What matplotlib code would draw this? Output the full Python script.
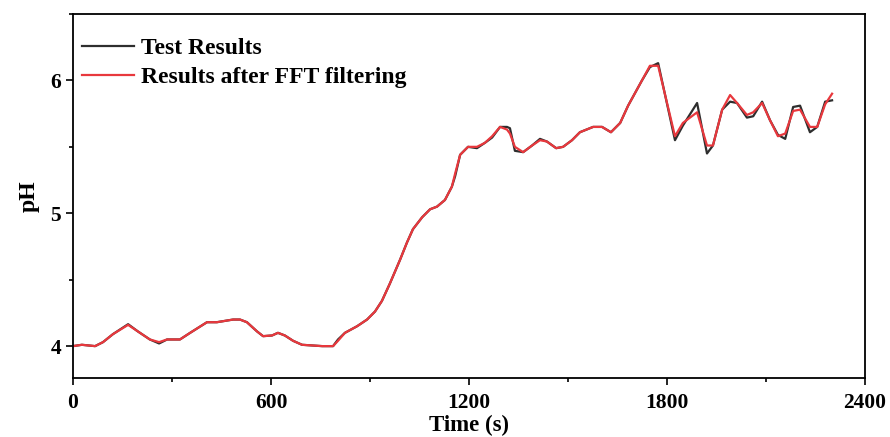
import matplotlib
matplotlib.use("Agg")
import matplotlib.pyplot as plt
from matplotlib.ticker import MultipleLocator

# time (s) and pH
time_s = [0, 27, 67, 91, 121, 167, 197, 233, 261, 285, 324, 355, 406, 436, 485, 506,
          527, 558, 576, 603, 621, 642, 667, 694, 755, 788, 803, 824, 861, 891, 915,
          936, 960, 991, 1012, 1030, 1058, 1082, 1103, 1127, 1148, 1158, 1173, 1197,
          1224, 1248, 1270, 1294, 1315, 1324, 1339, 1364, 1391, 1415, 1436, 1464,
          1485, 1512, 1536, 1576, 1603, 1630, 1658, 1682, 1724, 1748, 1773, 1824,
          1848, 1891, 1921, 1939, 1967, 1991, 2012, 2042, 2061, 2088, 2112, 2136,
          2158, 2182, 2203, 2233, 2255, 2279, 2300]

ph_test = [4.00, 4.01, 4.00, 4.03, 4.09, 4.165, 4.11, 4.05, 4.02, 4.05, 4.05, 4.10,
           4.18, 4.18, 4.20, 4.20, 4.18, 4.11, 4.075, 4.08, 4.10, 4.08, 4.04, 4.01,
           4.00, 4.00, 4.05, 4.10, 4.15, 4.20, 4.26, 4.34, 4.47, 4.65, 4.78, 4.88,
           4.97, 5.03, 5.05, 5.10, 5.20, 5.28, 5.44, 5.50, 5.49, 5.53, 5.57, 5.65,
           5.65, 5.64, 5.47, 5.46, 5.51, 5.56, 5.54, 5.49, 5.50, 5.55, 5.61, 5.65,
           5.65, 5.61, 5.68, 5.81, 6.00, 6.10, 6.13, 5.55, 5.66, 5.83, 5.45, 5.51,
           5.78, 5.84, 5.83, 5.72, 5.73, 5.84, 5.70, 5.59, 5.56, 5.80, 5.81, 5.61,
           5.65, 5.84, 5.85]

ph_fft = [4.00, 4.01, 4.00, 4.03, 4.09, 4.16, 4.11, 4.05, 4.03, 4.05, 4.05, 4.10,
          4.18, 4.18, 4.20, 4.20, 4.18, 4.11, 4.075, 4.08, 4.10, 4.08, 4.04, 4.01,
          4.00, 4.00, 4.04, 4.10, 4.15, 4.20, 4.26, 4.34, 4.47, 4.65, 4.78, 4.88,
          4.97, 5.03, 5.05, 5.10, 5.20, 5.30, 5.44, 5.50, 5.50, 5.53, 5.58, 5.65,
          5.63, 5.60, 5.50, 5.46, 5.51, 5.55, 5.54, 5.49, 5.50, 5.55, 5.61, 5.65,
          5.65, 5.61, 5.68, 5.81, 6.00, 6.11, 6.11, 5.58, 5.68, 5.76, 5.51, 5.51,
          5.78, 5.89, 5.83, 5.74, 5.76, 5.83, 5.70, 5.58, 5.60, 5.77, 5.78, 5.65,
          5.65, 5.82, 5.90]

plt.rcParams['font.family'] = ['Liberation Serif', 'DejaVu Serif']
plt.rcParams['font.weight'] = 'bold'

fig = plt.figure(figsize=(8.9, 4.37), dpi=100)
ax = fig.add_axes([0.082, 0.135, 0.890, 0.833])

ax.plot(time_s, ph_test, color='#2e2e2e', lw=1.6, label='Test Results')
ax.plot(time_s, ph_fft, color='#e8383d', lw=1.6, label='Results after FFT filtering')

ax.set_xlim(0, 2400)
ax.set_ylim(3.76, 6.5)
ax.xaxis.set_major_locator(MultipleLocator(600))
ax.xaxis.set_minor_locator(MultipleLocator(300))
ax.yaxis.set_major_locator(MultipleLocator(1))
ax.yaxis.set_minor_locator(MultipleLocator(0.5))
ax.tick_params(which='major', direction='out', length=5, width=1.2, labelsize=15.5)
ax.tick_params(axis='x', which='major', pad=6)
ax.tick_params(which='minor', direction='out', length=3, width=1.2)
for sp in ax.spines.values():
    sp.set_linewidth(1.3)

ax.set_xlabel('Time (s)', fontsize=16.5, fontweight='bold', labelpad=1)
ax.set_ylabel('pH', fontsize=17, fontweight='bold', labelpad=8)

ax.legend(loc='upper left', bbox_to_anchor=(0.0, 0.962), frameon=False, fontsize=17,
          handlelength=2.2, handletextpad=0.3, borderaxespad=0, labelspacing=0.32)

plt.savefig('out.png', dpi=100)
plt.close()
